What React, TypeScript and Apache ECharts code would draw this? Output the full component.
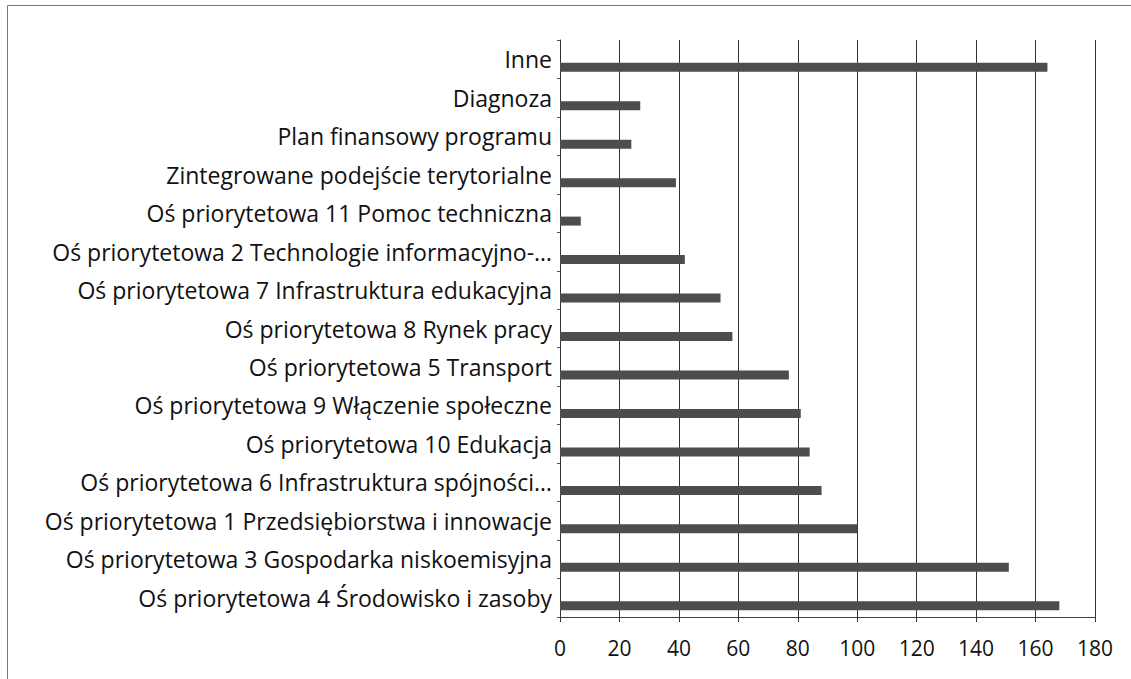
import React, { useEffect, useRef } from "react";
import * as echarts from "echarts";

const categories = [
  "Oś priorytetowa 4 Środowisko i zasoby",
  "Oś priorytetowa 3 Gospodarka niskoemisyjna",
  "Oś priorytetowa 1 Przedsiębiorstwa i innowacje",
  "Oś priorytetowa 6 Infrastruktura spójności…",
  "Oś priorytetowa 10 Edukacja",
  "Oś priorytetowa 9 Włączenie społeczne",
  "Oś priorytetowa 5 Transport",
  "Oś priorytetowa 8 Rynek pracy",
  "Oś priorytetowa 7 Infrastruktura edukacyjna",
  "Oś priorytetowa 2 Technologie informacyjno-…",
  "Oś priorytetowa 11 Pomoc techniczna",
  "Zintegrowane podejście terytorialne",
  "Plan finansowy programu",
  "Diagnoza",
  "Inne",
];

const values = [168, 151, 100, 88, 84, 81, 77, 58, 54, 42, 7, 39, 24, 27, 164];

const xTicks = [0, 20, 40, 60, 80, 100, 120, 140, 160, 180];

export default function App() {
  const ref = useRef<HTMLDivElement>(null);
  useEffect(() => {
    document.body.style.margin = "0";
    if (!ref.current) return;
    const chart = echarts.init(ref.current, null, { renderer: "svg" });
    chart.setOption({
      animation: false,
      backgroundColor: "#ffffff",
      textStyle: { fontFamily: "Open Sans" },
      graphic: [
        {
          type: "rect",
          shape: { x: 7.5, y: 5.5, width: 1200, height: 700 },
          style: { fill: "none", stroke: "#777", lineWidth: 1 },
          silent: true,
        },
      ],
      grid: { left: 560, right: 36, top: 40, bottom: 62, containLabel: false },
      xAxis: {
        type: "value",
        min: xTicks[0],
        max: xTicks[xTicks.length - 1],
        interval: 20,
        axisLine: { show: true, lineStyle: { color: "#444", width: 1 } },
        axisTick: { show: true, length: 5, lineStyle: { color: "#333" } },
        splitLine: { show: true, lineStyle: { color: "#333", width: 1 } },
        axisLabel: { color: "#111", fontSize: 21, margin: 20, fontFamily: "Open Sans" },
      },
      yAxis: {
        type: "category",
        data: categories,
        axisLine: { show: true, lineStyle: { color: "#333", width: 1 } },
        axisTick: { show: true, length: 3, lineStyle: { color: "#555" } },
        axisLabel: { color: "#111", fontSize: 23, margin: 8, fontFamily: "Open Sans" },
      },
      series: [
        { type: "bar", data: [], barWidth: 9, barGap: "78%" },
        {
          type: "bar",
          data: values,
          barWidth: 9,
          barGap: "78%",
          itemStyle: { color: "#4d4d4d" },
        },
      ],
    });
    return () => chart.dispose();
  }, []);
  return <div ref={ref} style={{ width: 1131, height: 679 }} />;
}
